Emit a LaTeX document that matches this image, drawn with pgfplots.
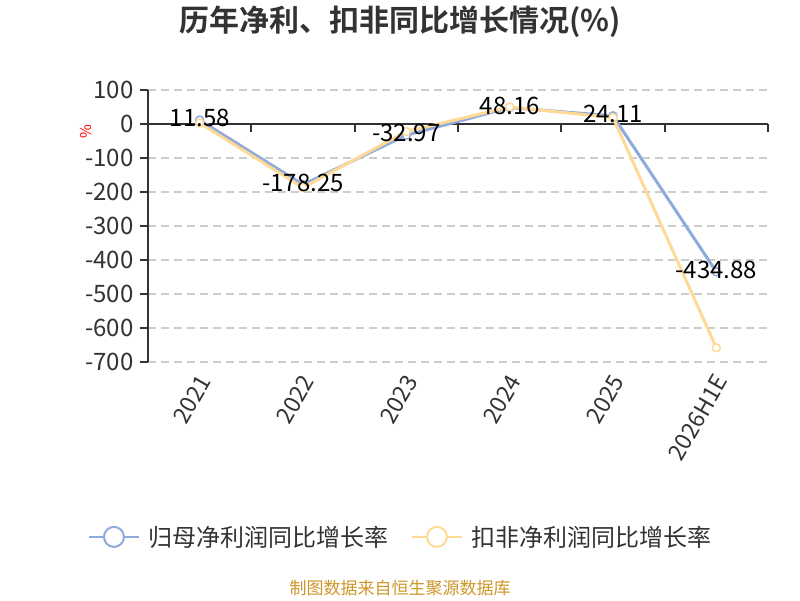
\documentclass[border=0pt]{standalone}
\usepackage{fontspec}
\setmainfont{Noto Sans CJK SC}[BoldFont={Noto Sans CJK SC Bold}]
\usepackage{pgfplots}
\pgfplotsset{compat=1.18}
\definecolor{cblue}{RGB}{143,170,220}
\definecolor{corange}{RGB}{255,217,150}
\definecolor{txt}{RGB}{51,51,51}
\definecolor{src}{RGB}{205,150,40}
\definecolor{gridc}{RGB}{204,204,204}

\pgfplotstableread{
x y label
0 11.58 11.58
1 -178.25 -178.25
2 -32.97 -32.97
3 48.16 48.16
4 24.11 24.11
5 -434.88 -434.88
}\blue

\pgfplotstableread{
x y
0 3
1 -187
2 -22
3 50
4 19
5 -658
}\orange

\begin{document}
\begin{tikzpicture}[x=1pt,y=1pt]
\path (0,0) rectangle (800,600);
\node[font=\fontsize{30}{33}\selectfont\bfseries, text=txt] at (400,578) {历年净利、扣非同比增长情况(\%)};
\node[font=\fontsize{15}{18}\selectfont, text=red, rotate=90] at (86,468) {\%};
\node[font=\fontsize{17}{20}\selectfont, text=src] at (400,12) {制图数据来自恒生聚源数据库};
\begin{axis}[
  at={(148pt,238pt)}, anchor=south west,
  scale only axis, width=620pt, height=272pt,
  xmin=-0.5, xmax=5.5, ymin=-700, ymax=100,
  clip=false,
  xtick={0,1,2,3,4,5},
  xticklabels={2021,2022,2023,2024,2025,2026H1E},
  ytick={-700,-600,-500,-400,-300,-200,-100,0,100},
  /pgf/number format/assume math mode=true,
  axis x line*=bottom, axis y line*=left,
  x axis line style={draw=none},
  y axis line style={txt, line width=2pt},
  tick align=outside,
  major tick length=8pt,
  xtick style={draw=none},
  ytick style={txt, line width=2pt},
  ymajorgrids,
  major grid style={gridc, line width=1.3pt, dash pattern=on 8pt off 5pt},
  x tick label style={rotate=60, anchor=east, font=\fontsize{23}{26}\selectfont, text=txt, yshift=-8pt},
  y tick label style={font=\fontsize{24}{27}\selectfont, text=txt, xshift=-3pt},
  legend style={at={(0.408,-0.643)}, anchor=center, draw=none, fill=none,
    font=\fontsize{24}{27}\selectfont, text=txt,
    /tikz/every odd column/.append style={column sep=7pt},
    /tikz/every even column/.append style={column sep=20pt}},
  legend columns=2,
]
\draw[txt, line width=2pt] (axis cs:-0.5,0) -- (axis cs:5.5,0);
\pgfplotsinvokeforeach{0.5,1.5,2.5,3.5,4.5,5.5}{
  \draw[txt, line width=2pt] (axis cs:#1,0) -- ++(0pt,-8pt);
}
\addplot[cblue, line width=3pt, mark=*, mark size=4pt,
  mark options={fill=white, draw=cblue, line width=1.5pt},
  legend image code/.code={
    \draw[cblue, line width=2pt] (0pt,0pt) -- (50pt,0pt);
    \draw[cblue, fill=white, line width=2pt] (25pt,0pt) circle (10pt);
  }] table[x=x,y=y] {\blue};
\addlegendentry{归母净利润同比增长率}
\addplot[corange, line width=3pt, mark=*, mark size=4pt,
  mark options={fill=white, draw=corange, line width=1.5pt},
  legend image code/.code={
    \draw[corange, line width=2pt] (0pt,0pt) -- (50pt,0pt);
    \draw[corange, fill=white, line width=2pt] (25pt,0pt) circle (10pt);
  }] table[x=x,y=y] {\orange};
\addlegendentry{扣非净利润同比增长率}
\addplot[draw=none, mark=none, forget plot,
  nodes near coords, point meta=explicit symbolic,
  every node near coord/.style={anchor=center, yshift=2pt, font=\fontsize{24}{27}\selectfont, text=black}
  ] table[x=x,y=y,meta=label] {\blue};
\end{axis}
\end{tikzpicture}
\end{document}
